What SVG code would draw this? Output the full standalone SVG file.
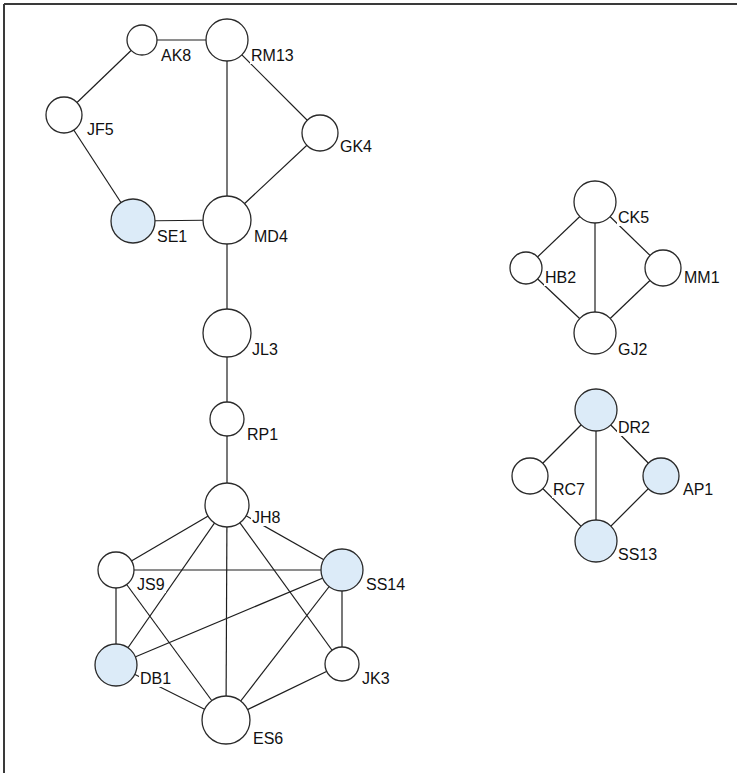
<svg xmlns="http://www.w3.org/2000/svg" width="737" height="773" viewBox="0 0 737 773">
<style>
.n{fill:#ffffff;stroke:#2a2a2a;stroke-width:1.3}
.b{fill:#dcebf8}
.e line{stroke:#1e1e1e;stroke-width:1.2}
.lb{fill:#ffffff}
text{font-family:"Liberation Sans",Arial,sans-serif;font-size:16px;fill:#111}
</style>
<rect x="0" y="0" width="737" height="773" fill="#ffffff"/>
<g id="frame" stroke="#3a3a3a" stroke-width="2">
<line x1="4" y1="4" x2="737" y2="4"/>
<line x1="4" y1="4" x2="4" y2="773"/>
</g>
<g id="edges" class="e">
<line x1="142" y1="40" x2="227" y2="40"/>
<line x1="142" y1="40" x2="64" y2="115"/>
<line x1="64" y1="115" x2="133" y2="221"/>
<line x1="133" y1="221" x2="227" y2="220"/>
<line x1="227" y1="40" x2="227" y2="220"/>
<line x1="227" y1="40" x2="320" y2="133"/>
<line x1="320" y1="133" x2="227" y2="220"/>
<line x1="227" y1="220" x2="227" y2="333"/>
<line x1="227" y1="333" x2="227" y2="419"/>
<line x1="227" y1="419" x2="227" y2="505"/>
<line x1="227" y1="505" x2="116" y2="570"/>
<line x1="227" y1="505" x2="342" y2="570"/>
<line x1="227" y1="505" x2="116" y2="665"/>
<line x1="227" y1="505" x2="226" y2="720"/>
<line x1="227" y1="505" x2="342" y2="664"/>
<line x1="116" y1="570" x2="342" y2="570"/>
<line x1="116" y1="570" x2="116" y2="665"/>
<line x1="116" y1="570" x2="226" y2="720"/>
<line x1="342" y1="570" x2="116" y2="665"/>
<line x1="342" y1="570" x2="226" y2="720"/>
<line x1="342" y1="570" x2="342" y2="664"/>
<line x1="116" y1="665" x2="226" y2="720"/>
<line x1="342" y1="664" x2="226" y2="720"/>
<line x1="595" y1="202" x2="526" y2="268"/>
<line x1="595" y1="202" x2="595" y2="333"/>
<line x1="595" y1="202" x2="663" y2="268"/>
<line x1="526" y1="268" x2="595" y2="333"/>
<line x1="663" y1="268" x2="595" y2="333"/>
<line x1="596" y1="410" x2="530" y2="476"/>
<line x1="596" y1="410" x2="596" y2="541"/>
<line x1="596" y1="410" x2="661" y2="476"/>
<line x1="530" y1="476" x2="596" y2="541"/>
<line x1="661" y1="476" x2="596" y2="541"/>
</g>
<g id="AK8"><circle class="n" cx="142" cy="40" r="15"/><rect class="lb" x="160" y="47" width="33" height="17"/><text x="161" y="61">AK8</text></g>
<g id="RM13"><circle class="n" cx="227" cy="40" r="21"/><rect class="lb" x="250" y="47" width="45" height="17"/><text x="251" y="61">RM13</text></g>
<g id="JF5"><circle class="n" cx="64" cy="115" r="18"/><rect class="lb" x="86" y="121" width="29" height="17"/><text x="87" y="135">JF5</text></g>
<g id="GK4"><circle class="n" cx="320" cy="133" r="18"/><rect class="lb" x="339" y="138" width="34" height="17"/><text x="340" y="152">GK4</text></g>
<g id="SE1"><circle class="n b" cx="133" cy="221" r="22"/><rect class="lb" x="156" y="228" width="33" height="17"/><text x="157" y="242">SE1</text></g>
<g id="MD4"><circle class="n" cx="227" cy="220" r="24"/><rect class="lb" x="253" y="228" width="36" height="17"/><text x="254" y="242">MD4</text></g>
<g id="JL3"><circle class="n" cx="227" cy="333" r="24"/><rect class="lb" x="251" y="341" width="28" height="17"/><text x="252" y="355">JL3</text></g>
<g id="RP1"><circle class="n" cx="227" cy="419" r="17"/><rect class="lb" x="246" y="426" width="33" height="17"/><text x="247" y="440">RP1</text></g>
<g id="JH8"><circle class="n" cx="227" cy="505" r="22"/><rect class="lb" x="251" y="509" width="31" height="17"/><text x="252" y="523">JH8</text></g>
<g id="JS9"><circle class="n" cx="116" cy="570" r="18"/><rect class="lb" x="136" y="576" width="30" height="17"/><text x="137" y="590">JS9</text></g>
<g id="SS14"><circle class="n b" cx="342" cy="570" r="21"/><rect class="lb" x="365" y="576" width="41" height="17"/><text x="366" y="590">SS14</text></g>
<g id="DB1"><circle class="n b" cx="116" cy="665" r="21"/><rect class="lb" x="139" y="670" width="33" height="17"/><text x="140" y="684">DB1</text></g>
<g id="JK3"><circle class="n" cx="342" cy="664" r="17"/><rect class="lb" x="361" y="670" width="30" height="17"/><text x="362" y="684">JK3</text></g>
<g id="ES6"><circle class="n" cx="226" cy="720" r="24"/><rect class="lb" x="252" y="730" width="33" height="17"/><text x="253" y="744">ES6</text></g>
<g id="CK5"><circle class="n" cx="595" cy="202" r="21"/><rect class="lb" x="617" y="209" width="33" height="17"/><text x="618" y="223">CK5</text></g>
<g id="HB2"><circle class="n" cx="526" cy="268" r="16"/><rect class="lb" x="544" y="269" width="33" height="17"/><text x="545" y="283">HB2</text></g>
<g id="MM1"><circle class="n" cx="663" cy="268" r="18"/><rect class="lb" x="683" y="269" width="37" height="17"/><text x="684" y="283">MM1</text></g>
<g id="GJ2"><circle class="n" cx="595" cy="333" r="21"/><rect class="lb" x="617" y="341" width="31" height="17"/><text x="618" y="355">GJ2</text></g>
<g id="DR2"><circle class="n b" cx="596" cy="410" r="21"/><rect class="lb" x="617" y="419" width="34" height="17"/><text x="618" y="433">DR2</text></g>
<g id="RC7"><circle class="n" cx="530" cy="476" r="18"/><rect class="lb" x="552" y="481" width="34" height="17"/><text x="553" y="495">RC7</text></g>
<g id="AP1"><circle class="n b" cx="661" cy="476" r="18"/><rect class="lb" x="682" y="481" width="33" height="17"/><text x="683" y="495">AP1</text></g>
<g id="SS13"><circle class="n b" cx="596" cy="541" r="21"/><rect class="lb" x="617" y="546" width="41" height="17"/><text x="618" y="560">SS13</text></g>
</svg>
